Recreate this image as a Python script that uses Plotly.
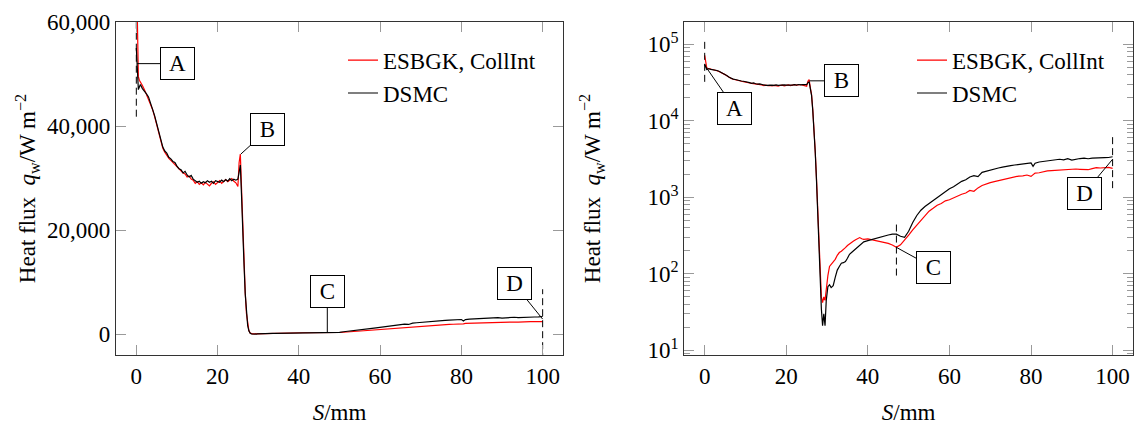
import plotly.graph_objects as go
import math

# Arc length along the wall, S in mm
S_MM = [
    0, 0.25, 0.5, 0.75, 1, 1.5, 2, 2.5, 3, 3.5, 4, 4.5, 5, 5.5, 6, 6.5, 7, 7.5, 8, 8.5,
    9, 9.5, 10, 10.5, 11, 11.5, 12, 12.5, 13, 13.5, 14, 14.5, 15, 15.5, 16, 16.5, 17, 17.5,
    18, 18.5, 19, 19.5, 20, 20.5, 21, 21.5, 22, 22.5, 23, 23.5, 24, 24.5, 25,
    25.3, 25.6, 25.9, 26.2, 26.5, 26.8, 27.1, 27.4, 27.7, 28, 28.3, 28.6, 28.9, 29.2, 29.5, 29.8,
    30.2, 30.6, 31, 31.5, 32, 32.5, 33, 33.5, 34, 34.5, 35, 35.5, 36, 36.5, 37, 37.5, 38, 38.5, 39,
    40, 41, 42, 43, 44, 45, 46, 47, 48, 49, 50, 51, 52, 53, 54, 55, 56, 57, 58, 59,
    60, 61, 62, 63, 64, 65, 66, 67, 68, 69, 70, 71, 72, 73, 74, 75, 76, 77, 78, 79,
    80, 80.5, 81, 82, 83, 84, 85, 86, 87, 88, 89, 90, 91, 92, 93, 94, 95, 96, 97, 98, 99, 100,
]

# Wall heat flux q_w in W/m^2, ES-BGK with collision integrals
Q_ESBGK = [
    72000, 58000, 49500, 48800, 48500, 47800, 47000, 46000, 45200, 44200, 43200, 41800, 40300, 38600, 37000, 35800, 35000, 34300, 33800, 33400,
    33000, 32600, 32000, 31700, 31300, 31000, 30800, 30200, 30400, 29800, 29600, 29000, 29300, 28800, 29100, 28700, 29200, 28900,
    28500, 29000, 29300, 28800, 29200, 29500, 29000, 29400, 29700, 29300, 29600, 29900, 29400, 29100, 28400,
    33000, 34600, 27000, 22000, 14000, 8000, 4000, 1800, 700, 220, 90, 50, 42, 50, 45, 68,
    95, 125, 132, 140, 155, 175, 190, 198, 207, 220, 235, 248, 260, 268, 280, 292, 298, 288, 282,
    286, 278, 272, 266, 258, 250, 238, 222, 240, 275, 320, 375, 435, 500, 580, 660, 720, 790, 830, 900,
    930, 990, 1050, 1100, 1140, 1230, 1200, 1330, 1430, 1500, 1560, 1610, 1660, 1720, 1770, 1800, 1850, 1900, 1910, 1960,
    1880, 2000, 2080, 2100, 2170, 2220, 2240, 2260, 2300, 2320, 2330, 2320, 2350, 2330, 2340, 2300, 2380, 2450, 2420, 2440, 2460, 2400,
]

# Wall heat flux q_w in W/m^2, DSMC reference
Q_DSMC = [
    55000, 51000, 47000, 47500, 48000, 47200, 46800, 46200, 45600, 44500, 43200, 42000, 40500, 39000, 37200, 36000, 35200, 34800, 34000, 33700,
    33200, 33000, 32300, 31800, 31600, 31000, 31300, 30600, 30200, 30500, 29800, 29500, 29200, 29400, 29000, 29300, 29100, 29500,
    29200, 29400, 29000, 29500, 29300, 29200, 29600, 29300, 29700, 29400, 29900, 29500, 29800, 29600, 29800,
    31500, 32500, 26500, 21500, 13500, 7800, 3900, 1700, 650, 200, 70, 35, 21, 30, 21, 45,
    68, 72, 66, 70, 90, 112, 125, 138, 140, 145, 160, 180, 190, 200, 210, 225, 238, 250, 262,
    272, 282, 290, 305, 312, 322, 330, 330, 310, 300, 360, 470, 580, 680, 760, 830, 910, 1000, 1100, 1200,
    1300, 1380, 1500, 1620, 1700, 1850, 1920, 1870, 2120, 2200, 2280, 2340, 2420, 2480, 2560, 2600, 2650, 2700, 2720, 2780,
    2820, 2540, 2800, 2900, 2950, 3000, 3050, 3080, 3150, 3100, 3200, 3080, 3180, 3220, 3260, 3200, 3260, 3250, 3280, 3300, 3320, 3400,
]

SERIES_NAMES = ["ESBGK, CollInt", "DSMC"]
X_TICKS = [0, 20, 40, 60, 80, 100]
Y_TICKS_LIN = [0, 20000, 40000, 60000]
Y_TICKS_LOG = [10, 100, 1000, 10000, 100000]
Y_TICKTEXT_LOG = ["10<sup>1</sup>", "10<sup>2</sup>", "10<sup>3</sup>", "10<sup>4</sup>", "10<sup>5</sup>"]

# Marked locations A-D: (label, S at mark, q at mark, S of box, q of box)
MARKS_LIN = [
    ("A", 0.2, 52000, 10.1, 52000),
    ("B", 25.7, 34600, 32.3, 39300),
    ("C", 47.0, 300, 47.0, 8200),
    ("D", 100.0, 2900, 93.0, 9650),
]
MARKS_LOG = [
    ("A", 0.0, 53500, 7.4, 14400),
    ("B", 25.7, 33400, 33.5, 33400),
    ("C", 47.0, 222, 56.0, 121),
    ("D", 100.0, 3150, 93.0, 1125),
]
# Dashed guides: (S, q_low, q_high)
GUIDES_LIN = [(0.0, 41800, 62000), (100.0, -5000, 8640)]
GUIDES_LOG = [(0.0, 32400, 108000), (47.0, 95, 471), (100.0, 1320, 6550)]

FONT = "Liberation Serif"
COLORS = ["#ff0000", "#000000"]

fig = go.Figure()

for panel, (xa, ya, leg) in enumerate([("x", "y", "legend"), ("x2", "y2", "legend2")]):
    for name, q, col in zip(SERIES_NAMES, [Q_ESBGK, Q_DSMC], COLORS):
        fig.add_trace(go.Scatter(
            x=S_MM, y=q, name=name, mode="lines",
            line=dict(color=col, width=1.2),
            xaxis=xa, yaxis=ya, legend=leg, showlegend=True,
        ))
    guides = GUIDES_LIN if panel == 0 else GUIDES_LOG
    for s, lo, hi in guides:
        fig.add_trace(go.Scatter(
            x=[s, s], y=[lo, hi], mode="lines",
            line=dict(color="black", width=1, dash="7px,4px"),
            xaxis=xa, yaxis=ya, showlegend=False, hoverinfo="skip",
        ))

annotations = []
for panel, marks in enumerate([MARKS_LIN, MARKS_LOG]):
    xr, yr = ("x", "y") if panel == 0 else ("x2", "y2")
    f = (lambda v: v) if panel == 0 else math.log10
    for lab, sx, qy, bx, by in marks:
        annotations.append(dict(
            x=sx, y=f(qy), ax=bx, ay=f(by), xref=xr, yref=yr, axref=xr, ayref=yr,
            text=lab, showarrow=True, arrowhead=0, arrowwidth=1, arrowcolor="black",
            standoff=0, startstandoff=0,
            font=dict(family=FONT, size=23, color="black"),
            bgcolor="white", bordercolor="black", borderwidth=1, borderpad=1,
            width=31, height=29,
        ))

axis_common = dict(
    showline=True, linecolor="#333333", linewidth=1.3, mirror="allticks",
    ticks="inside", ticklen=10, tickwidth=1.2, tickcolor="#9a9a9a",
    showgrid=False, zeroline=False, automargin=False,
    tickfont=dict(family=FONT, size=23, color="black"),
)

TITLE_FONT = dict(family=FONT, size=23, color="black")
X_LABEL = "<i>S</i>/mm"
Y_LABEL = "Heat flux  <i>q</i><sub>w</sub>/W m<sup>\u22122</sup>"

fig.update_layout(
    width=1134, height=430,
    margin=dict(l=116, r=1, t=22, b=74.5),
    paper_bgcolor="white", plot_bgcolor="white",
    template="none",
    font=dict(family=FONT, size=23, color="black"),
    xaxis=dict(domain=[0, 0.4395], range=[-5, 105], tickvals=X_TICKS,
               title=dict(text=X_LABEL, font=TITLE_FONT, standoff=16), anchor="y", **axis_common),
    yaxis=dict(range=[-4000, 60000], tickvals=Y_TICKS_LIN, tickformat=",d",
               title=dict(text=Y_LABEL, font=TITLE_FONT, standoff=4), anchor="x", **axis_common),
    xaxis2=dict(domain=[0.5588, 1], range=[-5, 105], tickvals=X_TICKS,
                title=dict(text=X_LABEL, font=TITLE_FONT, standoff=16), anchor="y2", **axis_common),
    yaxis2=dict(type="log", range=[0.939, 5.293], tickvals=Y_TICKS_LOG, ticktext=Y_TICKTEXT_LOG,
                title=dict(text=Y_LABEL, font=TITLE_FONT, standoff=40), anchor="x2",
                minor=dict(ticks="inside", ticklen=6, tickwidth=1.2, tickcolor="#9a9a9a", dtick="D1", showgrid=False),
                **axis_common),
    legend=dict(x=0.2232, y=0.95, xanchor="left", yanchor="top", bgcolor="rgba(0,0,0,0)",
                borderwidth=0, font=dict(family=FONT, size=23, color="black"), tracegroupgap=0),
    legend2=dict(x=0.7827, y=0.95, xanchor="left", yanchor="top", bgcolor="rgba(0,0,0,0)",
                 borderwidth=0, font=dict(family=FONT, size=23, color="black"), tracegroupgap=0),
    annotations=annotations,
    showlegend=True,
)

fig.write_html("out.html")
